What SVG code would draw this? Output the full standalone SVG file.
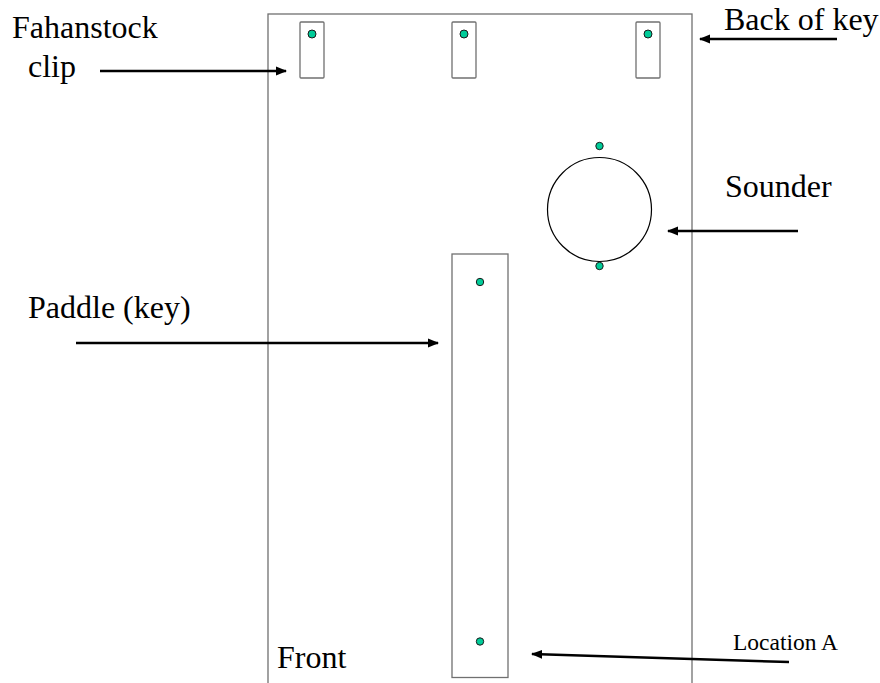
<svg xmlns="http://www.w3.org/2000/svg" width="880" height="683" viewBox="0 0 880 683">
<defs>
<style>
text{font-family:'Liberation Serif','Times New Roman',Times,serif;fill:#000}
.lbl{font-size:32px}
.small{font-size:23.5px}
.box{fill:none;stroke:#707070;stroke-width:1.3}
.dot{fill:#00CC99;stroke:#1a1a1a;stroke-width:1}
.conn{stroke:#000;stroke-width:2.5;fill:none;marker-end:url(#ah)}
</style>
<marker id="ah" viewBox="0 0 10 10" refX="9" refY="5" markerWidth="4.5" markerHeight="4.5" orient="auto" markerUnits="strokeWidth">
<path d="M0,1 L10,5 L0,9 Z" fill="#000"/>
</marker>
</defs>
<rect width="880" height="683" fill="#fff"/>
<g id="base">
<rect class="box" x="268" y="14" width="424" height="680"/>
</g>
<g id="clip1">
<rect class="box" x="300" y="22" width="24" height="56" rx="1"/>
<circle class="dot" cx="312" cy="34" r="4"/>
</g>
<g id="clip2">
<rect class="box" x="452" y="22" width="24" height="56" rx="1"/>
<circle class="dot" cx="464" cy="34" r="4"/>
</g>
<g id="clip3">
<rect class="box" x="636" y="22" width="24" height="56" rx="1"/>
<circle class="dot" cx="648" cy="34" r="4"/>
</g>
<g id="sounder">
<circle cx="599.5" cy="209.5" r="52" fill="none" stroke="#000" stroke-width="1.2"/>
<circle class="dot" cx="599.5" cy="146" r="3.7"/>
<circle class="dot" cx="599.5" cy="266" r="3.7"/>
</g>
<g id="paddle">
<rect class="box" x="452" y="254" width="56" height="423.5"/>
<circle class="dot" cx="480" cy="282" r="3.7"/>
<circle class="dot" cx="480" cy="641.5" r="3.7"/>
</g>
<g id="labels">
<text class="lbl" x="12" y="38" font-family="Liberation Serif, serif">Fahanstock</text>
<text class="lbl" x="28" y="77" font-family="Liberation Serif, serif">clip</text>
<text class="lbl" x="724" y="30" font-family="Liberation Serif, serif">Back of key</text>
<text class="lbl" x="725" y="197" font-family="Liberation Serif, serif">Sounder</text>
<text class="lbl" x="28" y="318" font-family="Liberation Serif, serif">Paddle (key)</text>
<text class="lbl" x="277" y="668" font-family="Liberation Serif, serif">Front</text>
<text class="lbl small" x="733" y="650" font-family="Liberation Serif, serif">Location A</text>
</g>
<g id="connectors">
<line class="conn" x1="100" y1="71" x2="286" y2="71"/>
<line class="conn" x1="837" y1="39" x2="700" y2="39"/>
<line class="conn" x1="798" y1="231" x2="668" y2="231"/>
<line class="conn" x1="76" y1="343" x2="438" y2="343"/>
<line class="conn" x1="789" y1="662" x2="532" y2="654"/>
</g>
</svg>
